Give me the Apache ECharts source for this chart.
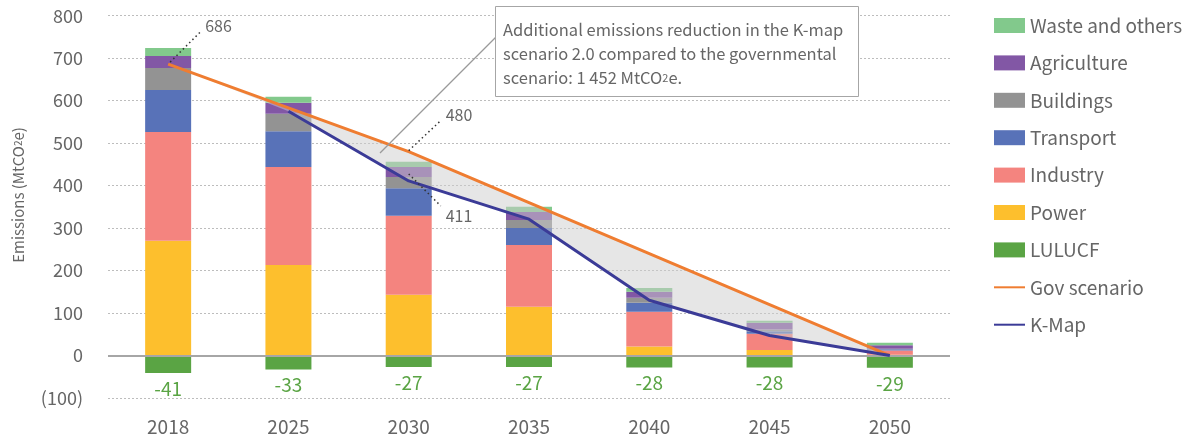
<!DOCTYPE html>
<html>
<head>
<meta charset="utf-8">
<script src="https://cdn.jsdelivr.net/npm/echarts@6/dist/echarts.min.js"></script>
<style>
html,body{margin:0;padding:0;background:#fff;}
#main{width:1197px;height:441px;}
</style>
</head>
<body>
<div id="main"></div>
<script>
const categories = ['2018','2025','2030','2035','2040','2045','2050'];
const lulucf      = [-41, -33, -27, -27, -28, -28, -29];
const power       = [270, 213, 143, 115, 21, 13, 2];
const industry    = [256, 231, 186, 145, 82, 38, 10];
const transport   = [99, 84, 65, 40, 21, 6, 3];
const buildings   = [52, 41, 26, 19, 12, 4, 1];
const agriculture = [28, 26, 24, 19, 14, 16, 8];
const waste       = [19, 14, 12, 12, 9, 5, 6];
const govScenario = [686, 583, 480, 360, 240, 120, 0];
const kmapPath    = [686, 575, 411, 321, 130, 47, 0];
const yTicks = { min: -100, max: 800, interval: 100 };

const FONT = '"Noto Sans CJK KR", "Noto Sans", sans-serif';
const TXT = '#666666';
const C = {
  waste: '#82c98c', agri: '#8257a5', build: '#939393', transport: '#5872b8',
  industry: '#f4847f', power: '#fdbf2d', lulucf: '#5aa444', gov: '#ef7d31', kmap: '#3b3b97'
};

const chart = echarts.init(document.getElementById('main'), null, {renderer: 'canvas'});

function barSeries(name, data, color, extra) {
  return Object.assign({
    name, type: 'bar', stack: 'total', data, barWidth: 46,
    itemStyle: { color }, emphasis: { disabled: true }
  }, extra || {});
}

const kmapLine = kmapPath.map((v, i) => i === 0 ? '-' : v);
const band = govScenario.map((v, i) => v - kmapPath[i]);

const option = {
  animation: false,
  textStyle: { fontFamily: FONT },
  grid: { left: 108, right: 247, top: 15.7, bottom: 43 },
  legend: {
    orient: 'vertical', left: 988, top: 11,
    itemWidth: 31, itemHeight: 15, itemGap: 18.4,
    textStyle: { color: TXT, fontSize: 19, lineHeight: 18, fontFamily: FONT, padding: [0,0,0,0] },
    data: [
      { name: 'Waste and others', icon: 'rect' },
      { name: 'Agriculture', icon: 'rect' },
      { name: 'Buildings', icon: 'rect' },
      { name: 'Transport', icon: 'rect' },
      { name: 'Industry', icon: 'rect' },
      { name: 'Power', icon: 'rect' },
      { name: 'LULUCF', icon: 'rect' },
      { name: 'Gov scenario', itemStyle: { opacity: 0 } },
      { name: 'K-Map', itemStyle: { opacity: 0 } }
    ],
    selectedMode: false
  },
  xAxis: {
    type: 'category', data: categories,
    axisLine: { show: false, onZero: false },
    axisTick: { show: false },
    axisLabel: { color: TXT, fontSize: 19, margin: 19, fontFamily: FONT }
  },
  yAxis: {
    type: 'value', min: yTicks.min, max: yTicks.max, interval: yTicks.interval,
    axisLine: { show: false }, axisTick: { show: false },
    axisLabel: { color: TXT, fontSize: 18, margin: 25, fontFamily: FONT,
      formatter: v => v < 0 ? '(' + Math.abs(v) + ')' : String(v) },
    splitLine: { lineStyle: { color: '#bdbdbd', type: [2, 2], width: 1 } }
  },
  series: [
    barSeries('LULUCF', lulucf, C.lulucf, {
      label: { show: true, position: 'bottom', distance: 6, color: C.lulucf, fontSize: 19, fontFamily: FONT },
      markLine: {
        silent: true, symbol: 'none', label: { show: false },
        lineStyle: { color: '#a6a6a6', type: 'solid', width: 2 },
        data: [{ yAxis: 0 }]
      }
    }),
    barSeries('Power', power, C.power),
    barSeries('Industry', industry, C.industry),
    barSeries('Transport', transport, C.transport),
    barSeries('Buildings', buildings, C.build),
    barSeries('Agriculture', agriculture, C.agri),
    barSeries('Waste and others', waste, C.waste),
    { name: 'bandBase', type: 'line', stack: 'band', data: kmapPath, symbol: 'none',
      lineStyle: { opacity: 0 }, silent: true, z: 3 },
    { name: 'bandFill', type: 'line', stack: 'band', data: band, symbol: 'none',
      lineStyle: { opacity: 0 }, areaStyle: { color: 'rgba(205,205,205,0.5)', opacity: 1 }, silent: true, z: 3 },
    { name: 'Gov scenario', type: 'line', data: govScenario, symbol: 'none',
      lineStyle: { color: C.gov, width: 3 }, itemStyle: { color: C.gov }, z: 4 },
    { name: 'K-Map', type: 'line', data: kmapLine, symbol: 'none',
      lineStyle: { color: C.kmap, width: 3 }, itemStyle: { color: C.kmap }, z: 5 }
  ]
};
chart.setOption(option);

const gov0 = chart.convertToPixel({ seriesName: 'Gov scenario' }, [0, govScenario[0]]);
const gov2 = chart.convertToPixel({ seriesName: 'Gov scenario' }, [2, govScenario[2]]);
const km2 = chart.convertToPixel({ seriesName: 'K-Map' }, [2, kmapPath[2]]);
const dotted = { stroke: '#333', lineWidth: 1.5, lineDash: [1.5, 3] };
const lblStyle = (x, y, t) => ({ type: 'text', z: 20, style: { x, y, text: t, fill: TXT, font: '16px ' + FONT, textVerticalAlign: 'middle' } });

chart.setOption({
  graphic: [
    { type: 'line', z: 20, shape: { x1: gov0[0] + 2, y1: gov0[1] - 2, x2: gov0[0] + 33, y2: gov0[1] - 33 }, style: dotted },
    lblStyle(gov0[0] + 37, gov0[1] - 38, String(govScenario[0])),
    { type: 'line', z: 20, shape: { x1: gov2[0], y1: gov2[1] - 1, x2: gov2[0] + 32, y2: gov2[1] - 31 }, style: dotted },
    lblStyle(gov2[0] + 37, gov2[1] - 37, String(govScenario[2])),
    { type: 'line', z: 20, shape: { x1: km2[0], y1: km2[1] - 7, x2: km2[0] + 32, y2: km2[1] + 25 }, style: dotted },
    lblStyle(km2[0] + 37, km2[1] + 35, String(kmapPath[2])),
    { type: 'line', z: 20, shape: { x1: 380, y1: 153, x2: 496, y2: 37 }, style: { stroke: '#9a9a9a', lineWidth: 1.2 } },
    { type: 'rect', z: 21, shape: { x: 495.5, y: 6.5, width: 363, height: 90 },
      style: { fill: '#fff', stroke: '#a6a6a6', lineWidth: 1 } },
    { type: 'text', z: 22, style: {
        x: 503, y: 18, fill: TXT, font: '16.5px ' + FONT, lineHeight: 24,
        text: 'Additional emissions reduction in the K-map\nscenario 2.0 compared to the governmental\nscenario: 1 452 MtCO{s|2}e.',
        rich: { s: { fontSize: 11, fill: TXT, fontFamily: FONT, verticalAlign: 'middle', lineHeight: 24 } }
    } },
    { type: 'text', z: 22, rotation: Math.PI / 2, x: 18, y: 195, style: {
        x: 0, y: 0, text: 'Emissions (MtCO{s|2}e)', fill: TXT, font: '15px ' + FONT,
        align: 'center', verticalAlign: 'middle',
        rich: { s: { fontSize: 10, fill: TXT, fontFamily: FONT } }
    } }
  ]
});
</script>
</body>
</html>
